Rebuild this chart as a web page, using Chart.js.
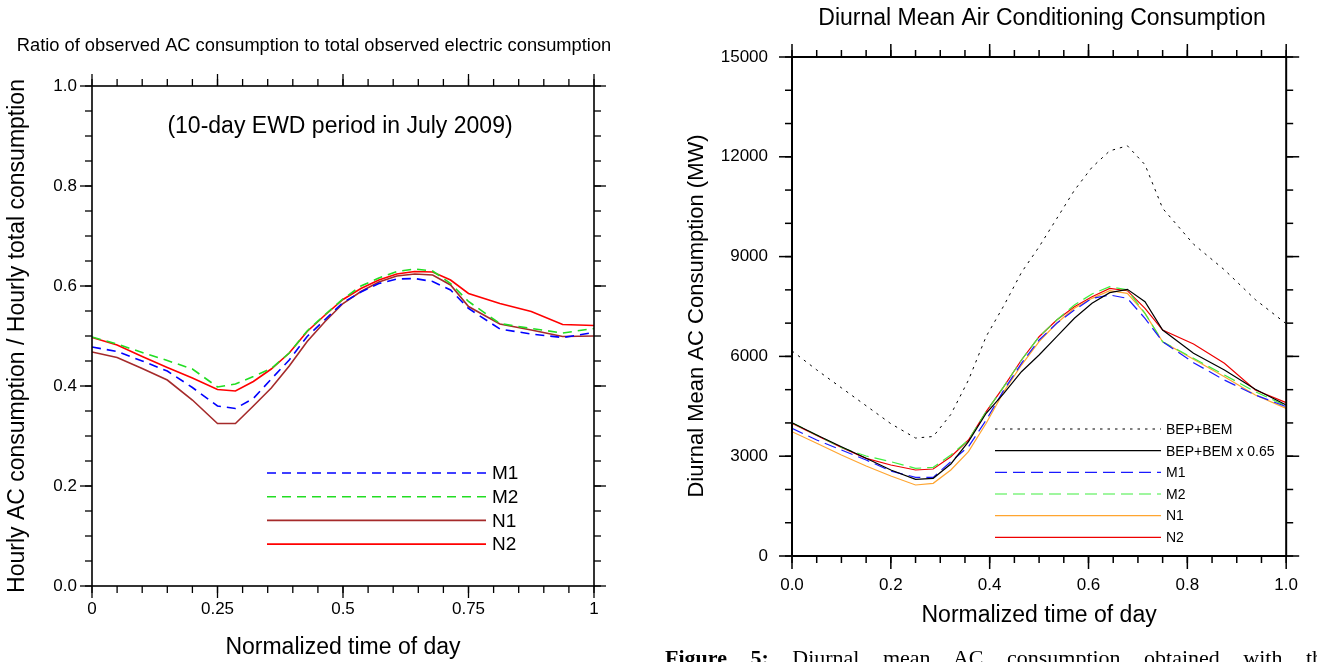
<!DOCTYPE html>
<html><head><meta charset="utf-8">
<script src="https://cdn.jsdelivr.net/npm/chart.js@4.4.1/dist/chart.umd.min.js"></script>
<style>
html,body{margin:0;padding:0;background:#fff;width:1317px;height:662px;overflow:hidden;position:relative}
#c1{position:absolute;left:0;top:0}
#c2{position:absolute;left:660px;top:0}
#cap{position:absolute;left:665px;top:647px;font-family:'Liberation Serif','Times New Roman',serif;font-size:22px;line-height:22px;white-space:nowrap;word-spacing:18px;color:#000}
</style></head><body>
<canvas id="c1" width="660" height="662"></canvas>
<canvas id="c2" width="657" height="662"></canvas>
<div id="cap"><b>Figure 5:</b> Diurnal mean AC consumption obtained with the</div>
<script>
// ---------- data ----------
const timeOfDay = [0, 0.05, 0.1, 0.15, 0.2, 0.25, 0.2857, 0.3214, 0.3571, 0.3929, 0.4286, 0.4643, 0.5, 0.5357, 0.5714, 0.6071, 0.6429, 0.6786, 0.7143, 0.75, 0.8125, 0.875, 0.9375, 1.0];

// left panel: ratio of AC to total consumption
const ratioM1 = [0.478, 0.469, 0.450, 0.430, 0.397, 0.360, 0.355, 0.375, 0.414, 0.452, 0.499, 0.533, 0.567, 0.588, 0.605, 0.614, 0.615, 0.609, 0.592, 0.555, 0.514, 0.504, 0.497, 0.507];
const ratioM2 = [0.498, 0.484, 0.467, 0.451, 0.434, 0.398, 0.404, 0.419, 0.435, 0.466, 0.510, 0.543, 0.574, 0.600, 0.616, 0.629, 0.634, 0.630, 0.605, 0.569, 0.525, 0.515, 0.506, 0.515];
const ratioN1 = [0.468, 0.457, 0.435, 0.412, 0.372, 0.325, 0.325, 0.360, 0.396, 0.440, 0.489, 0.529, 0.565, 0.589, 0.608, 0.620, 0.624, 0.622, 0.602, 0.559, 0.524, 0.512, 0.499, 0.500];
const ratioN2 = [0.497, 0.482, 0.459, 0.437, 0.416, 0.393, 0.390, 0.409, 0.434, 0.466, 0.509, 0.542, 0.573, 0.595, 0.612, 0.624, 0.629, 0.628, 0.612, 0.585, 0.565, 0.549, 0.523, 0.521];

// right panel: diurnal mean AC consumption (MW)
const acBEPBEM    = [6165, 5595, 5055, 4517, 3977, 3546, 3592, 4255, 5288, 6600, 7523, 8523, 9295, 10142, 10992, 11685, 12178, 12332, 11762, 10451, 9374, 8602, 7708, 6983];
const acBEPBEM065 = [4007, 3637, 3286, 2936, 2585, 2305, 2335, 2766, 3437, 4290, 4890, 5540, 6042, 6592, 7145, 7595, 7916, 8016, 7645, 6793, 6093, 5591, 5010, 4539];
const acM1 = [3838, 3487, 3186, 2886, 2555, 2365, 2365, 2836, 3286, 4088, 4990, 5792, 6493, 6995, 7395, 7745, 7846, 7745, 7145, 6442, 5811, 5290, 4840, 4489];
const acM2 = [4007, 3637, 3260, 3006, 2836, 2635, 2666, 3036, 3487, 4340, 5090, 5892, 6592, 7094, 7545, 7876, 8096, 8000, 7295, 6442, 5942, 5441, 4940, 4509];
const acN1 = [3737, 3387, 3036, 2705, 2405, 2134, 2185, 2585, 3136, 3990, 4940, 5741, 6442, 6995, 7445, 7745, 7975, 7896, 7295, 6442, 5912, 5391, 4840, 4439];
const acN2 = [3990, 3620, 3260, 2936, 2735, 2585, 2615, 2986, 3487, 4340, 5090, 5892, 6592, 7094, 7495, 7795, 8046, 7975, 7445, 6793, 6373, 5792, 4990, 4610];

// tick labels
const leftXTicks = [0, 0.25, 0.5, 0.75, 1];
const leftXTickLabels = ['0', '0.25', '0.5', '0.75', '1'];
const leftYTicks = [0, 0.2, 0.4, 0.6, 0.8, 1.0];
const leftYTickLabels = ['0.0', '0.2', '0.4', '0.6', '0.8', '1.0'];
const rightXTicks = [0, 0.2, 0.4, 0.6, 0.8, 1.0];
const rightXTickLabels = ['0.0', '0.2', '0.4', '0.6', '0.8', '1.0'];
const rightYTicks = [0, 3000, 6000, 9000, 12000, 15000];
const rightYTickLabels = ['0', '3000', '6000', '9000', '12000', '15000'];

// ---------- helpers ----------
const FONT = "'Liberation Sans', Arial, Helvetica, sans-serif";
const pts = arr => timeOfDay.map((x, i) => ({x: x, y: arr[i]}));

const deco = {
  id: 'deco',
  afterDraw(chart, args, o) {
    const {ctx, chartArea: a, scales: {x, y}} = chart;
    ctx.save();
    ctx.strokeStyle = '#000';
    ctx.setLineDash([]);
    ctx.lineWidth = o.frameWidth;
    ctx.strokeRect(a.left, a.top, a.right - a.left, a.bottom - a.top);
    ctx.lineWidth = o.tickWidth;
    const line = (x1, y1, x2, y2) => { ctx.beginPath(); ctx.moveTo(x1, y1); ctx.lineTo(x2, y2); ctx.stroke(); };
    const xTick = (v, len) => { const p = x.getPixelForValue(v); line(p, a.bottom, p, a.bottom + len); line(p, a.top, p, a.top - len); };
    const yTick = (v, len) => { const p = y.getPixelForValue(v); line(a.left, p, a.left - len, p); line(a.right, p, a.right + len, p); };
    for (let i = 0; x.min + i * o.xMinor <= x.max + 1e-9; i++) xTick(x.min + i * o.xMinor, o.minorLen);
    for (let i = 0; y.min + i * o.yMinor <= y.max + 1e-9; i++) yTick(y.min + i * o.yMinor, o.minorLen);
    o.xMajor.forEach(v => xTick(v, o.majorLen));
    o.yMajor.forEach(v => yTick(v, o.majorLen));
    // texts
    ctx.fillStyle = '#000';
    ctx.textAlign = 'center';
    ctx.textBaseline = 'middle';
    (o.texts || []).forEach(t => {
      ctx.save();
      ctx.font = t.size + 'px ' + FONT;
      ctx.translate(t.x, t.y);
      if (t.rot) ctx.rotate(t.rot);
      ctx.fillText(t.text, 0, 0);
      ctx.restore();
    });
    // legend
    const L = o.legend;
    chart.data.datasets.forEach((ds, i) => {
      const yy = L.y0 + i * L.dy;
      ctx.strokeStyle = ds.borderColor;
      ctx.lineWidth = ds.borderWidth;
      ctx.setLineDash(ds.borderDash || []);
      line(L.x1, yy, L.x2, yy);
      ctx.setLineDash([]);
      ctx.font = L.size + 'px ' + FONT;
      ctx.textAlign = 'left';
      ctx.fillStyle = '#000';
      ctx.fillText(ds.label, L.tx, yy + 1);
    });
    ctx.restore();
  }
};

function makeScale(cfg) {
  return {
    type: 'linear',
    min: cfg.min, max: cfg.max,
    afterBuildTicks: s => { s.ticks = cfg.ticks.map(v => ({value: v})); },
    afterFit: s => { if (cfg.width !== undefined) s.width = cfg.width; if (cfg.height !== undefined) s.height = cfg.height; },
    grid: {display: false, drawTicks: false},
    border: {display: false},
    ticks: {
      autoSkip: false, maxRotation: 0, minRotation: 0,
      padding: cfg.pad, color: '#000',
      font: {family: FONT, size: cfg.fs},
      callback: (v, i) => cfg.labels[i]
    },
    title: {display: !!cfg.title, text: cfg.title || '', color: '#000', font: {family: FONT, size: 23}, padding: cfg.tpad}
  };
}

// ---------- left chart ----------
new Chart(document.getElementById('c1'), {
  type: 'line',
  data: {datasets: [
    {label: 'M1', data: pts(ratioM1), borderColor: '#0000ff', borderWidth: 1.6, borderDash: [9, 6]},
    {label: 'M2', data: pts(ratioM2), borderColor: '#22dd22', borderWidth: 1.6, borderDash: [9, 6]},
    {label: 'N1', data: pts(ratioN1), borderColor: '#a52a2a', borderWidth: 1.6},
    {label: 'N2', data: pts(ratioN2), borderColor: '#ff0000', borderWidth: 1.6}
  ]},
  options: {
    responsive: false, animation: false, devicePixelRatio: 1,
    elements: {point: {radius: 0}, line: {tension: 0}},
    layout: {padding: {left: 0, top: 86, right: 66, bottom: 0}},
    scales: {
      x: makeScale({min: 0, max: 1, ticks: leftXTicks, labels: leftXTickLabels, height: 76, pad: 13, fs: 17, title: 'Normalized time of day', tpad: {top: 0, bottom: 1}}),
      y: makeScale({min: 0, max: 1, ticks: leftYTicks, labels: leftYTickLabels, width: 92, pad: 15, fs: 17, title: 'Hourly AC consumption / Hourly total consumption', tpad: {top: 4, bottom: 0}})
    },
    plugins: {
      legend: {display: false}, tooltip: {enabled: false},
      deco: {
        frameWidth: 1.6, tickWidth: 1.3, majorLen: 12, minorLen: 7,
        xMajor: leftXTicks, yMajor: leftYTicks, xMinor: 0.05, yMinor: 0.05,
        texts: [
          {text: 'Ratio of observed AC consumption to total observed electric consumption', x: 314, y: 46, size: 18.3},
          {text: '(10-day EWD period in July 2009)', x: 340, y: 127, size: 23}
        ],
        legend: {x1: 267, x2: 486, y0: 473, dy: 23.7, tx: 492, size: 19}
      }
    }
  },
  plugins: [deco]
});

// ---------- right chart ----------
new Chart(document.getElementById('c2'), {
  type: 'line',
  data: {datasets: [
    {label: 'BEP+BEM', data: pts(acBEPBEM), borderColor: '#000000', borderWidth: 1, borderDash: [2.5, 5]},
    {label: 'BEP+BEM x 0.65', data: pts(acBEPBEM065), borderColor: '#000000', borderWidth: 1.2},
    {label: 'M1', data: pts(acM1), borderColor: '#1a1aff', borderWidth: 1.2, borderDash: [12, 6]},
    {label: 'M2', data: pts(acM2), borderColor: '#40ee40', borderWidth: 1.2, borderDash: [12, 6]},
    {label: 'N1', data: pts(acN1), borderColor: '#ffa530', borderWidth: 1.2},
    {label: 'N2', data: pts(acN2), borderColor: '#ee0000', borderWidth: 1.2}
  ]},
  options: {
    responsive: false, animation: false, devicePixelRatio: 1,
    elements: {point: {radius: 0}, line: {tension: 0}},
    layout: {padding: {left: 0, top: 57, right: 25, bottom: 0}},
    scales: {
      x: makeScale({min: 0, max: 1, ticks: rightXTicks, labels: rightXTickLabels, height: 106, pad: 19, fs: 17, title: 'Normalized time of day', tpad: {top: 0, bottom: 33}}),
      y: makeScale({min: 0, max: 15000, ticks: rightYTicks, labels: rightYTickLabels, width: 132, pad: 24, fs: 17, title: null})
    },
    plugins: {
      legend: {display: false}, tooltip: {enabled: false},
      deco: {
        frameWidth: 2, tickWidth: 1.5, majorLen: 13, minorLen: 7,
        xMajor: rightXTicks, yMajor: rightYTicks, xMinor: 0.05, yMinor: 1000,
        texts: [
          {text: 'Diurnal Mean Air Conditioning Consumption', x: 382, y: 19, size: 23},
          {text: 'Diurnal Mean AC Consumption (MW)', x: 37, y: 316, size: 22, rot: -Math.PI / 2}
        ],
        legend: {x1: 335, x2: 501, y0: 429, dy: 21.66, tx: 506, size: 14}
      }
    }
  },
  plugins: [deco]
});
</script>
</body></html>
